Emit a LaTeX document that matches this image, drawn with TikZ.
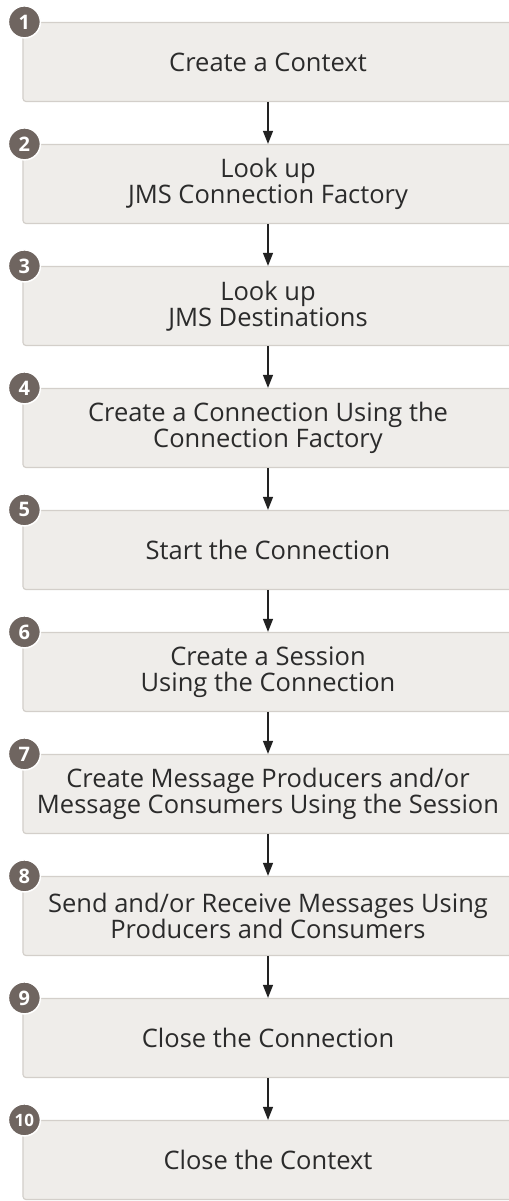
\documentclass[tikz,border=0pt]{standalone}
\usepackage{fontspec}
\setmainfont{Open Sans}
\definecolor{BoxFill}{HTML}{EFEDEA}
\definecolor{BoxLine}{HTML}{D3CFCA}
\definecolor{BadgeFill}{HTML}{6F6560}
\definecolor{StepText}{HTML}{2B2B2B}
\definecolor{ArrowLine}{HTML}{222222}
\usetikzlibrary{positioning, arrows.meta}

\tikzset{
    stepbox/.style={draw=BoxLine, fill=BoxFill, line width=1.2bp, rounded corners=3bp,
        minimum width=490bp, minimum height=79bp, align=center, text=StepText,
        font=\fontsize{25.5bp}{25.5bp}\selectfont},
    badge/.style={circle, fill=BadgeFill, draw=white, line width=1.5bp, minimum size=32bp,
        inner sep=0pt, text=white, font=\bfseries\fontsize{20bp}{20bp}\selectfont},
    flow/.style={-{Triangle[length=13bp, width=10bp]}, line width=1.2bp, draw=ArrowLine}
}

\begin{document}
\begin{tikzpicture}[x=1bp, y=1bp, node distance=41.8bp]

    \useasboundingbox (0,0) rectangle (509,-1201);

    \node [stepbox] (s1) at (268,-62) {Create a Context};
    \node [stepbox, below=of s1] (s2) {Look up\\JMS Connection Factory};
    \node [stepbox, below=of s2] (s3) {Look up\\JMS Destinations};
    \node [stepbox, below=of s3] (s4) {Create a Connection Using the\\Connection Factory};
    \node [stepbox, below=of s4] (s5) {Start the Connection};
    \node [stepbox, below=of s5] (s6) {Create a Session\\Using the Connection};
    \node [stepbox, below=of s6] (s7) {Create Message Producers and/or\\Message Consumers Using the Session};
    \node [stepbox, below=of s7] (s8) {Send and/or Receive Messages Using\\Producers and Consumers};
    \node [stepbox, below=of s8] (s9) {Close the Connection};
    \node [stepbox, below=of s9] (s10) {Close the Context};

    % step numbers
    \node [badge] (n1) at ([xshift=2bp]s1.north west) {1};
    \node [badge] (n2) at ([xshift=2bp]s2.north west) {2};
    \node [badge] (n3) at ([xshift=2bp]s3.north west) {3};
    \node [badge] (n4) at ([xshift=2bp]s4.north west) {4};
    \node [badge] (n5) at ([xshift=2bp]s5.north west) {5};
    \node [badge] (n6) at ([xshift=2bp]s6.north west) {6};
    \node [badge] (n7) at ([xshift=2bp]s7.north west) {7};
    \node [badge] (n8) at ([xshift=2bp]s8.north west) {8};
    \node [badge] (n9) at ([xshift=2bp]s9.north west) {9};
    \node [badge, font=\bfseries\fontsize{17bp}{17bp}\selectfont] (n10) at ([xshift=2bp]s10.north west) {10};

    \draw [flow] (s1) -- (s2);
    \draw [flow] (s2) -- (s3);
    \draw [flow] (s3) -- (s4);
    \draw [flow] (s4) -- (s5);
    \draw [flow] (s5) -- (s6);
    \draw [flow] (s6) -- (s7);
    \draw [flow] (s7) -- (s8);
    \draw [flow] (s8) -- (s9);
    \draw [flow] (s9) -- (s10);

\end{tikzpicture}
\end{document}
